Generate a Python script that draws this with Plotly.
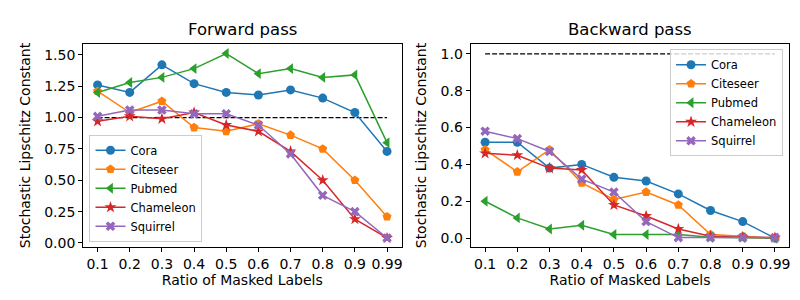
import plotly.graph_objects as go
from plotly.subplots import make_subplots

ratios = ["0.1", "0.2", "0.3", "0.4", "0.5", "0.6", "0.7", "0.8", "0.9", "0.99"]
datasets = ["Cora", "Citeseer", "Pubmed", "Chameleon", "Squirrel"]

fwd_cora = [1.26, 1.20, 1.42, 1.27, 1.20, 1.18, 1.22, 1.155, 1.04, 0.73]
fwd_citeseer = [1.21, 1.04, 1.13, 0.92, 0.89, 0.95, 0.86, 0.75, 0.50, 0.21]
fwd_pubmed = [1.20, 1.28, 1.32, 1.39, 1.51, 1.35, 1.39, 1.32, 1.34, 0.80]
fwd_chameleon = [0.97, 1.01, 0.99, 1.04, 0.94, 0.89, 0.73, 0.50, 0.19, 0.04]
fwd_squirrel = [1.01, 1.06, 1.06, 1.03, 1.03, 0.94, 0.71, 0.38, 0.25, 0.04]

bwd_cora = [0.52, 0.52, 0.38, 0.40, 0.33, 0.31, 0.24, 0.15, 0.09, 0.0]
bwd_citeseer = [0.48, 0.36, 0.48, 0.30, 0.21, 0.25, 0.18, 0.02, 0.01, 0.0]
bwd_pubmed = [0.20, 0.11, 0.05, 0.07, 0.02, 0.02, 0.02, 0.005, 0.003, 0.0]
bwd_chameleon = [0.46, 0.45, 0.38, 0.37, 0.18, 0.12, 0.05, 0.01, 0.005, 0.003]
bwd_squirrel = [0.58, 0.54, 0.47, 0.32, 0.25, 0.09, 0.003, 0.003, 0.003, 0.003]

reference_level = [1.0, 1.0]

fwd = [fwd_cora, fwd_citeseer, fwd_pubmed, fwd_chameleon, fwd_squirrel]
bwd = [bwd_cora, bwd_citeseer, bwd_pubmed, bwd_chameleon, bwd_squirrel]

colors = ["#1f77b4", "#ff7f0e", "#2ca02c", "#d62728", "#9467bd"]
symbols = ["circle", "pentagon", "triangle-left", "star", "x"]
sizes = [9, 9.5, 9.5, 9, 8.5]

FONT = "DejaVu Sans"

fig = make_subplots(rows=1, cols=2)

for col, data, leg in [(1, fwd, "legend"), (2, bwd, "legend2")]:
    fig.add_trace(go.Scatter(
        x=[ratios[0], ratios[-1]], y=reference_level, mode="lines",
        line=dict(color="black", width=1.2, dash="5px,2px"),
        showlegend=False, hoverinfo="skip"), row=1, col=col)
    for name, vals, c, s, sz in zip(datasets, data, colors, symbols, sizes):
        fig.add_trace(go.Scatter(
            x=ratios, y=vals, mode="lines+markers", name=name,
            line=dict(color=c, width=1.5),
            marker=dict(color=c, symbol=s, size=sz, line=dict(width=0)),
            legend=leg), row=1, col=col)

axis_common = dict(showline=True, linecolor="black", linewidth=1, mirror=True,
                   ticks="outside", ticklen=4, tickcolor="black", showgrid=False,
                   zeroline=False, tickfont=dict(family=FONT, size=14, color="black"))

fig.update_xaxes(type="category", categoryorder="array", categoryarray=ratios,
                 range=[-0.45, 9.45],
                 title=dict(text="Ratio of Masked Labels", font=dict(family=FONT, size=14, color="black"), standoff=3),
                 **axis_common)
fig.update_xaxes(domain=[0.094, 0.4925], row=1, col=1)
fig.update_xaxes(domain=[0.579, 0.978], row=1, col=2)

fig.update_yaxes(title=dict(text="Stochastic Lipschitz Constant", font=dict(family=FONT, size=14, color="black"), standoff=10),
                 **axis_common)
fig.update_yaxes(range=[-0.035, 1.589], dtick=0.25, tick0=0, tickformat=".2f", row=1, col=1)
fig.update_yaxes(range=[-0.05, 1.055], dtick=0.2, tick0=0, tickformat=".1f", row=1, col=2)
fig.update_yaxes(domain=[0.194, 0.88])

legend_style = dict(bgcolor="rgba(255,255,255,0.8)", bordercolor="#cccccc", borderwidth=1,
                    font=dict(family=FONT, size=11.5, color="black"), tracegroupgap=0,
                    itemwidth=30)

fig.update_layout(
    width=800, height=300,
    margin=dict(l=0, r=0, t=0, b=0),
    paper_bgcolor="white", plot_bgcolor="white",
    font=dict(family=FONT, color="black"),
    legend=dict(x=0.102, y=0.213, xanchor="left", yanchor="bottom", **legend_style),
    legend2=dict(x=0.97, y=0.861, xanchor="right", yanchor="top", **legend_style),
    annotations=[
        dict(text="Forward pass", x=(0.094 + 0.4925) / 2, y=1 - 22 / 300, xref="paper", yref="paper",
             showarrow=False, font=dict(family=FONT, size=16.5, color="black"),
             xanchor="center", yanchor="middle"),
        dict(text="Backward pass", x=(0.579 + 0.978) / 2, y=1 - 22 / 300, xref="paper", yref="paper",
             showarrow=False, font=dict(family=FONT, size=16.5, color="black"),
             xanchor="center", yanchor="middle"),
    ],
)

fig.write_html("out.html")
